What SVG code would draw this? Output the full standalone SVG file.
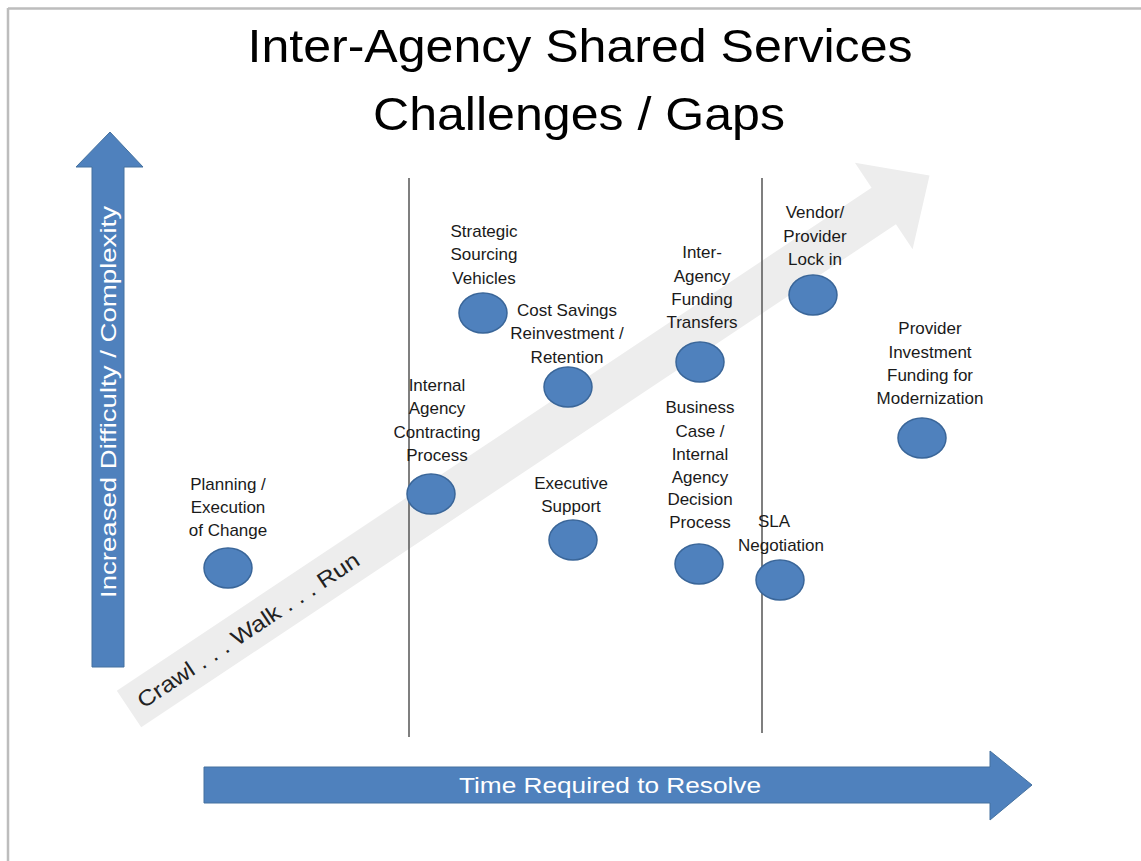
<svg xmlns="http://www.w3.org/2000/svg" width="1141" height="861" viewBox="0 0 1141 861">
  <style>
    .title { font-family: "Liberation Sans", Arial, sans-serif; font-size: 47px; fill: #000; text-anchor: middle; }
    .axis { font-family: "Liberation Sans", Arial, sans-serif; font-size: 22px; fill: #fff; text-anchor: middle; }
    .lbl { font-family: "Liberation Sans", Arial, sans-serif; font-size: 17px; fill: #1a1a1a; text-anchor: middle; }
    .dot { fill: #4f81bd; stroke: #3a6699; stroke-width: 1.5; }
    .divider { stroke: #555; stroke-width: 1.5; }
    .blue-arrow { fill: #4f81bd; stroke: #44719f; stroke-width: 1; }
  </style>

  <!-- frame -->
  <rect x="0" y="0" width="1141" height="861" fill="#fff"/>
  <path d="M8 8.5 H1141 M8 8 V861" stroke="#bdbdbd" stroke-width="2.5" fill="none"/>

  <!-- heading -->
  <text class="title" x="580" y="62" textLength="665" lengthAdjust="spacingAndGlyphs">Inter-Agency Shared Services</text>
  <text class="title" x="579" y="130" textLength="412" lengthAdjust="spacingAndGlyphs">Challenges / Gaps</text>

  <!-- progression band -->
  <g id="progression" transform="translate(129 709) rotate(-33.68)">
    <path d="M0 -22 H907 V-52 L962 0 L907 52 V22 H0 Z" fill="#ededed"/>
    <text x="12" y="8" font-family="'Liberation Sans', Arial, sans-serif" font-size="22" fill="#222" textLength="262" lengthAdjust="spacingAndGlyphs">Crawl . . . Walk . . . Run</text>
  </g>

  <!-- difficulty axis -->
  <g id="axis-difficulty">
    <path class="blue-arrow" d="M92 667 V167 H76 L110 132 L143 167 H124 V667 Z"/>
    <text class="axis" transform="translate(116 402) rotate(-90)" textLength="392" lengthAdjust="spacingAndGlyphs">Increased Difficulty / Complexity</text>
  </g>

  <!-- time axis -->
  <g id="axis-time">
    <path class="blue-arrow" d="M204 767 H990 V751 L1032 785 L990 820 V803 H204 Z"/>
    <text class="axis" x="610" y="793" textLength="302" lengthAdjust="spacingAndGlyphs">Time Required to Resolve</text>
  </g>

  <!-- phase dividers -->
  <g id="connectors">
    <line class="divider" x1="409" y1="178" x2="409" y2="737"/>
    <line class="divider" x1="762" y1="178" x2="762" y2="733"/>
  </g>

  <!-- challenges -->
  <g id="planning-execution">
    <text class="lbl" x="228"><tspan x="228" y="490">Planning /</tspan><tspan x="228" y="513">Execution</tspan><tspan x="228" y="536">of Change</tspan></text>
    <ellipse class="dot" cx="228" cy="568" rx="24" ry="20"/>
  </g>

  <g id="internal-contracting">
    <text class="lbl"><tspan x="437" y="391">Internal</tspan><tspan x="437" y="414">Agency</tspan><tspan x="437" y="438">Contracting</tspan><tspan x="437" y="461">Process</tspan></text>
    <ellipse class="dot" cx="431" cy="494" rx="24" ry="20"/>
  </g>

  <g id="strategic-sourcing">
    <text class="lbl"><tspan x="484" y="237">Strategic</tspan><tspan x="484" y="260">Sourcing</tspan><tspan x="484" y="284">Vehicles</tspan></text>
    <ellipse class="dot" cx="483" cy="313" rx="24" ry="20"/>
  </g>

  <g id="cost-savings">
    <text class="lbl"><tspan x="567" y="316">Cost Savings</tspan><tspan x="567" y="339">Reinvestment /</tspan><tspan x="567" y="363">Retention</tspan></text>
    <ellipse class="dot" cx="568" cy="387" rx="24" ry="20"/>
  </g>

  <g id="executive-support">
    <text class="lbl"><tspan x="571" y="489">Executive</tspan><tspan x="571" y="512">Support</tspan></text>
    <ellipse class="dot" cx="573" cy="540" rx="24" ry="20"/>
  </g>

  <g id="funding-transfers">
    <text class="lbl"><tspan x="702" y="258">Inter-</tspan><tspan x="702" y="282">Agency</tspan><tspan x="702" y="305">Funding</tspan><tspan x="702" y="328">Transfers</tspan></text>
    <ellipse class="dot" cx="700" cy="362" rx="24" ry="20"/>
  </g>

  <g id="business-case">
    <text class="lbl"><tspan x="700" y="413">Business</tspan><tspan x="700" y="437">Case /</tspan><tspan x="700" y="460">Internal</tspan><tspan x="700" y="483">Agency</tspan><tspan x="700" y="505">Decision</tspan><tspan x="700" y="528">Process</tspan></text>
    <ellipse class="dot" cx="699" cy="564" rx="24" ry="20"/>
  </g>

  <g id="vendor-lock-in">
    <text class="lbl"><tspan x="815" y="218">Vendor/</tspan><tspan x="815" y="242">Provider</tspan><tspan x="815" y="265">Lock in</tspan></text>
    <ellipse class="dot" cx="813" cy="295" rx="24" ry="20"/>
  </g>

  <g id="provider-investment">
    <text class="lbl"><tspan x="930" y="334">Provider</tspan><tspan x="930" y="358">Investment</tspan><tspan x="930" y="381">Funding for</tspan><tspan x="930" y="404">Modernization</tspan></text>
    <ellipse class="dot" cx="922" cy="438" rx="24" ry="20"/>
  </g>

  <g id="sla-negotiation">
    <text class="lbl"><tspan x="774" y="527">SLA</tspan><tspan x="781" y="551">Negotiation</tspan></text>
    <ellipse class="dot" cx="780" cy="580" rx="24" ry="20"/>
  </g>
</svg>
